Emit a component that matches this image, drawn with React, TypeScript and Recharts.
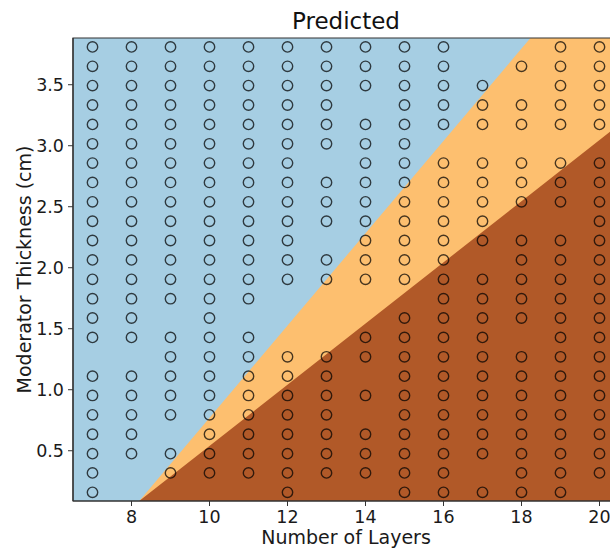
import React from "react"
import { ComposedChart, Area, Scatter, XAxis, YAxis, ReferenceArea } from "recharts"

const X_MIN = 6.5
const X_MAX = 20.5
const Y_MIN = 0.088
const Y_MAX = 3.883

// predicted regions: boundaries
const edgeX = [6.5, 8.198, 18.23, 20.5]
const blueTop = [3.883, 3.883, 3.883, 3.883]
const orangeTop = [0.088, 0.088, 3.883, 3.883]
const brownTop = [0.088, 0.088, 2.603, 3.172]

// moderator thickness levels (1/16 inch steps, in cm)
const thickness = [
  0.159, 0.318, 0.476, 0.635, 0.794, 0.953, 1.111, 1.27, 1.429, 1.588, 1.746, 1.905,
  2.064, 2.223, 2.381, 2.54, 2.699, 2.858, 3.016, 3.175, 3.334, 3.493, 3.651, 3.81,
]

const layers = [7, 8, 9, 10, 11, 12, 13, 14, 15, 16, 17, 18, 19, 20]

// which thickness levels (1-based) were sampled for each layer count
const sampled = [
  [1, 2, 3, 4, 5, 6, 7, 9, 10, 11, 12, 13, 14, 15, 16, 17, 18, 19, 20, 21, 22, 23, 24],
  [3, 4, 5, 6, 7, 9, 10, 11, 12, 13, 14, 15, 16, 17, 18, 19, 20, 21, 22, 23, 24],
  [2, 3, 5, 6, 7, 8, 9, 11, 12, 13, 14, 15, 16, 17, 18, 19, 20, 21, 22, 23, 24],
  [2, 3, 4, 5, 6, 7, 8, 9, 10, 11, 12, 13, 14, 15, 16, 17, 18, 19, 20, 21, 22, 23, 24],
  [2, 3, 4, 5, 6, 7, 8, 9, 11, 12, 13, 14, 15, 16, 17, 18, 19, 20, 21, 22, 23, 24],
  [1, 2, 3, 4, 5, 6, 7, 8, 12, 13, 14, 15, 16, 17, 18, 19, 20, 21, 22, 23, 24],
  [2, 3, 4, 5, 6, 7, 8, 12, 13, 15, 16, 17, 19, 20, 21, 22, 23, 24],
  [2, 3, 4, 6, 8, 9, 12, 13, 14, 15, 16, 17, 18, 19, 20, 22, 23, 24],
  [1, 2, 3, 4, 5, 6, 7, 8, 9, 10, 12, 13, 14, 15, 16, 17, 18, 19, 20, 21, 22, 23, 24],
  [1, 2, 3, 4, 5, 6, 7, 8, 9, 10, 11, 12, 13, 14, 15, 16, 17, 18, 20, 21, 22, 23, 24],
  [1, 3, 4, 5, 6, 7, 8, 9, 10, 11, 12, 14, 15, 16, 17, 18, 20, 21, 22],
  [1, 2, 3, 4, 5, 6, 7, 8, 10, 11, 12, 13, 14, 16, 17, 18, 20, 21, 23],
  [1, 2, 3, 4, 5, 6, 7, 8, 9, 10, 11, 12, 13, 14, 16, 17, 18, 20, 21, 22, 23, 24],
  [2, 3, 4, 5, 6, 7, 8, 9, 10, 11, 12, 13, 14, 15, 16, 17, 18, 20, 21, 22, 23, 24],
]

const xTicks = [8, 10, 12, 14, 16, 18, 20]
const yTicks = [0.5, 1.0, 1.5, 2.0, 2.5, 3.0, 3.5]

const regions = edgeX.map((x, i) => ({
  x,
  blue: blueTop[i],
  orange: orangeTop[i],
  brown: brownTop[i],
}))

const points = layers.flatMap((n, i) => sampled[i].map((k) => ({ x: n, y: thickness[k - 1] })))

const FONT = "DejaVu Sans, sans-serif"

const Ring = (props: any) => (
  <circle
    cx={props.cx}
    cy={props.cy}
    r={5.2}
    fill="none"
    stroke="#000"
    strokeOpacity={0.72}
    strokeWidth={1.4}
  />
)

export default function App() {
  return (
    <div
      style={{
        position: "absolute",
        left: 0,
        top: 0,
        width: 610,
        height: 549,
        overflow: "hidden",
        background: "#fff",
        fontFamily: FONT,
      }}
    >
      <div
        style={{
          position: "absolute",
          left: 73,
          width: 546,
          top: 10,
          textAlign: "center",
          fontSize: 23,
          lineHeight: "23px",
          color: "#111",
        }}
      >
        Predicted
      </div>
      <ComposedChart
        width={640}
        height={549}
        data={regions}
        margin={{ top: 38, right: 21, bottom: 0, left: 0 }}
      >
        <Area dataKey="blue" type="linear" fill="#a6cee3" fillOpacity={1} stroke="none" isAnimationActive={false} />
        <Area dataKey="orange" type="linear" fill="#fdbf6f" fillOpacity={1} stroke="none" isAnimationActive={false} />
        <Area dataKey="brown" type="linear" fill="#b15928" fillOpacity={1} stroke="none" isAnimationActive={false} />
        <Scatter data={points} dataKey="y" shape={Ring} isAnimationActive={false} />
        <ReferenceArea
          x1={X_MIN}
          x2={X_MAX}
          y1={Y_MIN}
          y2={Y_MAX}
          fill="none"
          fillOpacity={0}
          stroke="#333"
          strokeWidth={1.2}
        />
        <XAxis
          dataKey="x"
          type="number"
          domain={[X_MIN, X_MAX]}
          allowDataOverflow
          ticks={xTicks}
          height={48}
          tickSize={5}
          tickMargin={5}
          axisLine={{ stroke: "#333", strokeWidth: 1.2 }}
          tickLine={{ stroke: "#333" }}
          tick={{ fill: "#1a1a1a", fontSize: 17.5, fontFamily: FONT }}
          label={{
            value: "Number of Layers",
            position: "insideBottom",
            offset: 5,
            fill: "#1a1a1a",
            fontSize: 19,
            fontFamily: FONT,
          }}
        />
        <YAxis
          type="number"
          domain={[Y_MIN, Y_MAX]}
          allowDataOverflow
          ticks={yTicks}
          tickFormatter={(v: number) => v.toFixed(1)}
          width={73}
          tickSize={5}
          tickMargin={4}
          axisLine={{ stroke: "#333", strokeWidth: 1.2 }}
          tickLine={{ stroke: "#333" }}
          tick={{ fill: "#1a1a1a", fontSize: 17.5, fontFamily: FONT }}
          label={{
            value: "Moderator Thickness (cm)",
            angle: -90,
            position: "insideLeft",
            offset: 24,
            fill: "#1a1a1a",
            fontSize: 19,
            fontFamily: FONT,
            style: { textAnchor: "middle" },
          }}
        />
      </ComposedChart>
    </div>
  )
}
